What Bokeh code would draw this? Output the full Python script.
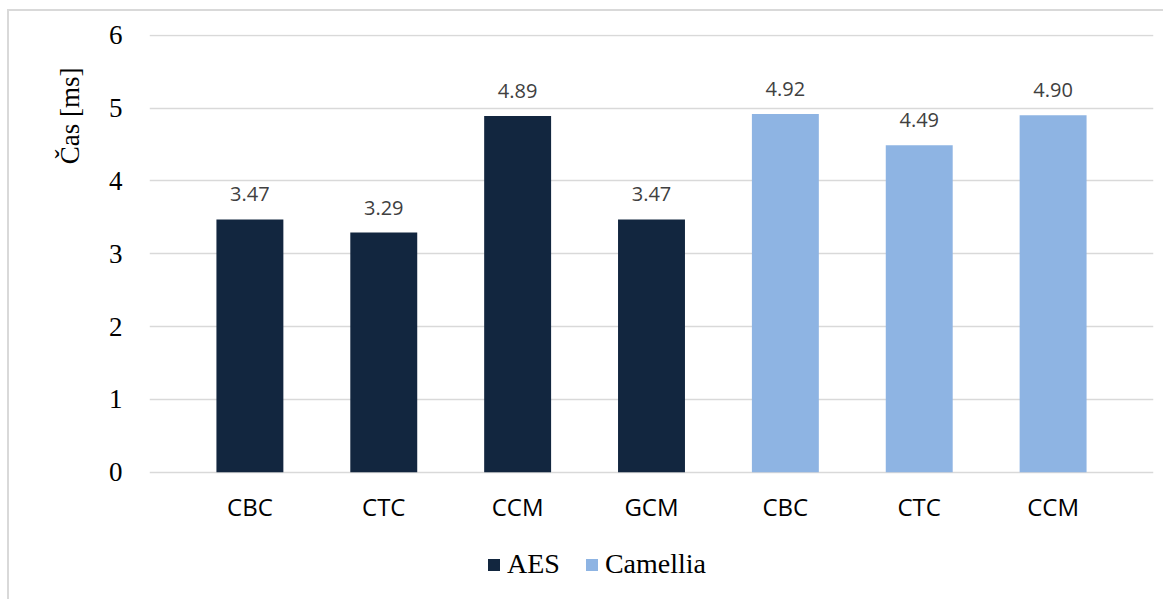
from bokeh.plotting import figure
from bokeh.models import (ColumnDataSource, FixedTicker, Legend, LegendItem,
                          LinearAxis, Range1d, Title)
from bokeh.embed import file_html
from bokeh.resources import INLINE

# Encryption time per mode of operation
modes = ["CBC", "CTC", "CCM", "GCM", "CBC", "CTC", "CCM"]
aes_modes = ["CBC", "CTC", "CCM", "GCM"]
aes_times = [3.47, 3.29, 4.89, 3.47]
camellia_modes = ["CBC", "CTC", "CCM"]
camellia_times = [4.92, 4.49, 4.90]
y_ticks = [0, 1, 2, 3, 4, 5, 6]

AES_COLOR = "#12263f"
CAM_COLOR = "#8eb4e3"
GRID = "#d9d9d9"

positions = list(range(len(modes)))
aes_x = positions[:len(aes_times)]
cam_x = positions[len(aes_times):]

aes_src = ColumnDataSource(dict(x=aes_x, top=aes_times,
                                label=[f"{v:.2f}" for v in aes_times]))
cam_src = ColumnDataSource(dict(x=cam_x, top=camellia_times,
                                label=[f"{v:.2f}" for v in camellia_times]))

# The frame runs to the bottom of the page so that the category labels
# (axis pinned at y=0) and the legend both sit inside it.
p = figure(frame_width=1004, frame_height=565, output_backend="svg",
           toolbar_location=None,
           x_range=Range1d(-0.75, len(modes) - 0.25),
           y_range=Range1d(-1.748, 6.01),
           x_axis_location=None,
           min_border_left=140, min_border_right=10, min_border_top=23,
           min_border_bottom=0)
p.margin = (9, 0, 0, 7)
p.styles = {"border-left": "2px solid #d9d9d9", "border-top": "2px solid #d9d9d9"}
p.outline_line_color = None
p.background_fill_color = "white"
p.border_fill_color = "white"

aes_r = p.vbar(x="x", top="top", width=0.5, source=aes_src,
               fill_color=AES_COLOR, line_color=None)
cam_r = p.vbar(x="x", top="top", width=0.5, source=cam_src,
               fill_color=CAM_COLOR, line_color=None)

for src in (aes_src, cam_src):
    p.text(x="x", y="top", text="label", source=src, text_align="center",
           text_baseline="alphabetic", y_offset=-25, text_font_size="20px",
           text_color="#404040", text_font={"value": "Open Sans"})

# category axis pinned to the zero line
xaxis = LinearAxis(fixed_location=0, ticker=FixedTicker(ticks=positions),
                   major_label_overrides={i: m for i, m in enumerate(modes)},
                   major_label_text_font="Open Sans",
                   major_label_text_font_size="24px",
                   major_label_text_color="black",
                   major_label_standoff=18, major_tick_out=0, major_tick_in=0,
                   axis_line_color=None, major_tick_line_color=None,
                   minor_tick_line_color=None)
p.add_layout(xaxis, "below")

p.yaxis.ticker = FixedTicker(ticks=y_ticks)
p.yaxis.major_label_text_font = "Liberation Serif"
p.yaxis.major_label_text_font_size = "27px"
p.yaxis.major_label_text_color = "black"
p.yaxis.major_label_standoff = 21
p.yaxis.axis_line_color = None
p.yaxis.major_tick_line_color = None
p.yaxis.minor_tick_line_color = None

# y-axis title, placed toward the top of the value axis
p.add_layout(Title(text="Čas [ms]", align="right", offset=33,
                   text_font="Liberation Serif", text_font_size="27px",
                   text_font_style="normal", text_color="black",
                   standoff=41), "left")

p.xgrid.grid_line_color = None
p.ygrid.grid_line_color = GRID
p.ygrid.grid_line_width = 1.5

legend = Legend(items=[LegendItem(label="AES", renderers=[aes_r]),
                       LegendItem(label="Camellia", renderers=[cam_r])],
                orientation="horizontal", location=(337, 19),
                label_text_font="Liberation Serif", label_text_font_size="28px",
                label_text_color="black", glyph_width=15, glyph_height=15,
                label_standoff=6, spacing=24, padding=0, margin=0,
                border_line_color=None, background_fill_alpha=0)
p.add_layout(legend, "center")

open("out.html", "w").write(file_html(p, INLINE))
